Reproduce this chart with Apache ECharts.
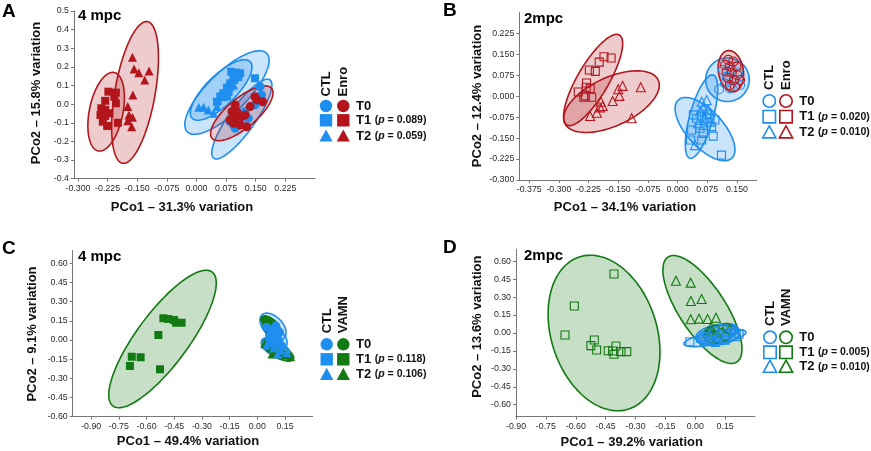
<!DOCTYPE html>
<html><head><meta charset="utf-8">
<script src="https://cdn.jsdelivr.net/npm/echarts@6/dist/echarts.min.js"></script>
<style>html,body{margin:0;padding:0;background:#fff}#c{width:871px;height:451px}</style>
</head><body><div id="c"></div><script>
const BLUE='#1E8EF0', RED='#B3151D', GREEN='#127A12';
const BLUE_F='rgba(30,142,240,0.24)', RED_F='rgba(179,21,29,0.22)', GREEN_F='rgba(18,122,18,0.24)';

// ---- tick labels ----
const A_X_TICKS=[-0.3,-0.225,-0.15,-0.075,0,0.075,0.15,0.225];
const A_Y_TICKS=[-0.4,-0.3,-0.2,-0.1,0,0.1,0.2,0.3,0.4,0.5];
const B_X_TICKS=[-0.375,-0.3,-0.225,-0.15,-0.075,0,0.075,0.15];
const B_Y_TICKS=[-0.3,-0.225,-0.15,-0.075,0,0.075,0.15,0.225];
const CD_X_TICKS=[-0.9,-0.75,-0.6,-0.45,-0.3,-0.15,0,0.15];
const CD_Y_TICKS=[-0.6,-0.45,-0.3,-0.15,0,0.15,0.3,0.45,0.6];

// ---- Panel A (4 mpc, CTL vs Enro) ----
const A_CTL_T0=[[0.161,0.094],[0.106,-0.058],[0.085,-0.094],[0.094,-0.112],[0.098,-0.129],[0.148,-0.004],[0.131,-0.076],[0.123,-0.04],[0.165,0.049],[0.111,-0.103]];
const A_CTL_T1=[[0.088,0.174],[0.1005,0.169],[0.1106,0.166],[0.0937,0.152],[0.106,0.145],[0.0955,0.130],[0.0854,0.112],[0.0771,0.089],[0.0812,0.067],[0.0686,0.059],[0.0603,0.041],[0.0771,0.041],[0.052,0.013],[0.148,0.139]];
const A_CTL_T2=[[0.006,-0.017],[0.018,-0.017],[0.030,-0.031],[0.0435,-0.049],[0.055,0.023],[0.060,0.049],[0.077,0.085],[0.0686,0.040],[0.0854,0.094],[0.0937,0.103],[0.052,-0.013]];
const A_ENRO_T0=[[0.0897,-0.04],[0.102,-0.04],[0.098,-0.076],[0.115,-0.067],[0.123,-0.058],[0.136,-0.013],[0.1525,0.023],[0.1675,0.013],[0.148,0.04],[0.085,-0.085],[0.094,-0.103],[0.1106,-0.112],[0.127,-0.121],[0.098,-0.004]];
const A_ENRO_T1=[[-0.223,0.067],[-0.204,0.062],[-0.231,0.018],[-0.208,0.04],[-0.241,-0.022],[-0.231,-0.031],[-0.243,-0.058],[-0.231,-0.063],[-0.237,-0.094],[-0.226,-0.117],[-0.199,-0.1],[-0.204,0.005],[-0.22,-0.049]];
const A_ENRO_T2=[[-0.162,0.252],[-0.158,0.189],[-0.146,0.169],[-0.131,0.13],[-0.12,0.178],[-0.161,0.049],[-0.174,-0.013],[-0.171,-0.058],[-0.162,-0.07],[-0.174,-0.089],[-0.164,-0.121]];
// ellipses: [x1, y1, x2, y2 (major axis ends), minor/major ratio]  rows T0,T1,T2
const A_ELL_CTL=[[0.0435,-0.29,0.186,0.13,0.27],[-0.0108,-0.0757,0.1357,0.228,0.37],[-0.0234,-0.148,0.1776,0.273,0.36]];
const A_ELL_ENRO=[[0.0394,-0.183,0.190,0.085,0.38],[-0.2085,0.170,-0.2487,-0.251,0.42],[-0.124,0.443,-0.187,-0.317,0.28]];

// ---- Panel B (2mpc, CTL vs Enro) ----
const B_CTL_T0=[[0.105,0.025],[0.115,0.094],[0.124,0.070],[0.145,0.058],[0.158,0.040],[0.120,0.046],[0.137,0.094],[0.153,0.082],[0.132,0.028]];
const B_CTL_T1=[[0.040,-0.067],[0.048,-0.079],[0.061,-0.071],[0.0735,-0.064],[0.082,-0.079],[0.0945,-0.085],[0.0356,-0.121],[0.0566,-0.115],[0.086,-0.109],[0.065,-0.133],[0.090,-0.143],[0.033,-0.157],[0.061,-0.157],[0.111,-0.211]];
const B_CTL_T2=[[0.061,-0.020],[0.0735,-0.014],[0.065,-0.043],[0.0776,-0.049],[0.0566,-0.055],[0.069,-0.079],[0.082,-0.091],[0.052,-0.097],[0.065,-0.103],[0.044,-0.175]];
const B_ENRO_T0=[[0.128,0.130],[0.141,0.124],[0.120,0.112],[0.132,0.106],[0.149,0.106],[0.124,0.088],[0.137,0.084],[0.151,0.076],[0.128,0.064],[0.1425,0.058],[0.158,0.058],[0.132,0.040],[0.145,0.034]];
const B_ENRO_T1=[[-0.186,0.141],[-0.168,0.137],[-0.198,0.122],[-0.223,0.094],[-0.208,0.089],[-0.230,0.047],[-0.251,0.015],[-0.231,0.032],[-0.221,0.027],[-0.233,0.001],[-0.217,-0.004],[-0.237,-0.004]];
const B_ENRO_T2=[[-0.139,0.037],[-0.150,0.025],[-0.093,0.032],[-0.147,0.001],[-0.164,-0.017],[-0.194,-0.020],[-0.189,-0.035],[-0.196,-0.040],[-0.204,-0.059],[-0.221,-0.071],[-0.116,-0.079]];
const B_ELL_CTL=[[0.071,0.059,0.181,0.059,1.0],[0.0018,-0.0136,0.137,-0.222,0.46],[0.031,-0.222,0.090,0.076,0.27]];
const B_ELL_ENRO=[[0.127,0.163,0.1425,0.016,0.6],[-0.280,-0.103,-0.147,0.219,0.3],[-0.285,-0.097,-0.049,0.058,0.47]];

// ---- Panel C (4 mpc, CTL vs VAMN) ----
const C_CTL_T0=[[0.05,0.10],[0.08,0.07],[0.10,0.11],[0.07,0.04],[0.12,0.06]];
const C_CTL_T1=[[0.08,0.02],[0.10,0.0],[0.12,-0.02],[0.09,-0.03],[0.11,0.03],[0.13,-0.05],[0.07,-0.01]];
const C_CTL_T2=[[0.05,-0.04],[0.09,-0.06],[0.13,-0.08],[0.16,-0.10],[0.11,-0.11]];
const C_VAMN_T0=[[0.04,0.16],[0.06,0.15],[0.05,0.12],[0.08,0.13],[0.07,0.10],[0.10,0.09],[0.09,0.06],[0.11,0.05],[0.06,0.08]];
const C_VAMN_T1=[[-0.509,0.170],[-0.482,0.164],[-0.451,0.156],[-0.440,0.135],[-0.410,0.135],[-0.536,0.039],[-0.680,-0.131],[-0.632,-0.135],[-0.690,-0.203],[-0.527,-0.229]];
const C_VAMN_T2=[[0.04,-0.03],[0.07,-0.06],[0.10,-0.08],[0.12,-0.10],[0.15,-0.12],[0.18,-0.13],[0.14,-0.08],[0.08,-0.11]];
const C_ELL_CTL=[[0.025,0.196,0.145,0.016,0.6],[0.058,0.078,0.150,-0.063,0.7],[0.025,0.0,0.177,-0.125,0.45]];
const C_ELL_VAMN=[[0.029,0.178,0.123,0.039,0.5],[-0.782,-0.516,-0.245,0.532,0.31],[0.024,-0.013,0.195,-0.151,0.38]];

// ---- Panel D (2mpc, CTL vs VAMN) ----
const D_CTL_T0=[[0.04,-0.03],[0.08,-0.06],[0.12,-0.04],[0.16,-0.01],[0.20,0.0],[0.10,0.01],[0.14,0.03]];
const D_CTL_T1=[[-0.027,-0.073],[0.05,-0.07],[0.10,-0.08],[0.15,-0.06],[0.20,-0.03],[0.22,-0.01]];
const D_CTL_T2=[[0.03,-0.04],[0.07,-0.02],[0.11,-0.03],[0.17,0.01],[0.19,0.03]];
const D_VAMN_T0=[[0.07,0.01],[0.10,0.03],[0.13,0.0],[0.15,-0.03],[0.11,-0.05],[0.18,0.02],[0.09,-0.02],[0.16,0.04]];
const D_VAMN_T1=[[-0.408,0.493],[-0.607,0.226],[-0.654,-0.017],[-0.507,-0.059],[-0.524,-0.106],[-0.495,-0.142],[-0.437,-0.148],[-0.415,-0.150],[-0.398,-0.109],[-0.408,-0.178],[-0.373,-0.156],[-0.344,-0.156]];
const D_VAMN_T2=[[-0.097,0.437],[-0.023,0.421],[-0.022,0.268],[0.032,0.284],[-0.023,0.115],[0.019,0.120],[0.062,0.117],[0.104,0.128],[0.079,0.048]];
const D_ELL_CTL=[[0.0035,-0.042,0.224,0.008,0.45],[-0.057,-0.092,0.2545,0.008,0.2],[0.0136,-0.0585,0.214,0.042,0.4]];
const D_ELL_VAMN=[[0.044,-0.042,0.204,0.042,0.5],[-0.582,0.636,-0.334,-0.636,0.66],[-0.137,0.635,0.209,-0.242,0.37]];

const TIMES=['T0','T1','T2'];
const A_P=['','0.089','0.059'], B_P=['','0.020','0.010'], C_P=['','0.118','0.106'], D_P=['','0.005','0.010'];

const SYMS=['circle','rect','triangle'];
const AXC='#777777';

const panels=[
 {letter:'A',sub:'4 mpc',grid:{left:74,top:11,width:241,height:167.7},x:[-0.31,0.3],y:[-0.4,0.5],xt:A_X_TICKS,yt:A_Y_TICKS,xd:3,yd:1,
  xName:'PCo1 \u2013 31.3% variation',yName:'PCo2 \u2013 15.8% variation',hollow:false,
  groups:[{n:'CTL',c:BLUE,f:BLUE_F,pts:[A_CTL_T0,A_CTL_T1,A_CTL_T2],ell:A_ELL_CTL},{n:'Enro',c:RED,f:RED_F,pts:[A_ENRO_T0,A_ENRO_T1,A_ENRO_T2],ell:A_ELL_ENRO}],
  pv:A_P, L:{letter:[2,11.5],sub:[78,16],xt:[182,207.5],yt:[36,93],colX:[326,343.3],rowY:[106,120.3,136],textX:356,hb:96.5}},
 {letter:'B',sub:'2mpc',grid:{left:519.3,top:12.4,width:237.4,height:167.6},x:[-0.4,0.2],y:[-0.3,0.3],xt:B_X_TICKS,yt:B_Y_TICKS,xd:3,yd:3,
  xName:'PCo1 \u2013 34.1% variation',yName:'PCo2 \u2013 12.4% variation',hollow:true,
  groups:[{n:'CTL',c:BLUE,f:BLUE_F,pts:[B_CTL_T0,B_CTL_T1,B_CTL_T2],ell:B_ELL_CTL},{n:'Enro',c:RED,f:RED_F,pts:[B_ENRO_T0,B_ENRO_T1,B_ENRO_T2],ell:B_ELL_ENRO}],
  pv:B_P, L:{letter:[443,11],sub:[524,19],xt:[625,207.5],yt:[477.5,96],colX:[769.3,786],rowY:[101,116.7,132.3],textX:799.3,hb:90}},
 {letter:'C',sub:'4 mpc',grid:{left:72.7,top:250.5,width:240,height:166.2},x:[-1.0,0.3],y:[-0.6,0.7],xt:CD_X_TICKS,yt:CD_Y_TICKS,xd:2,yd:2,
  xName:'PCo1 \u2013 49.4% variation',yName:'PCo2 \u2013 9.1% variation',hollow:false,
  groups:[{n:'VAMN',c:GREEN,f:GREEN_F,pts:[C_VAMN_T0,C_VAMN_T1,C_VAMN_T2],ell:C_ELL_VAMN},{n:'CTL',c:BLUE,f:BLUE_F,pts:[C_CTL_T0,C_CTL_T1,C_CTL_T2],ell:C_ELL_CTL}],
  legendOrder:[1,0], pv:C_P, L:{letter:[2,249],sub:[78,257],xt:[188,441.5],yt:[32.5,334],colX:[326.7,343.3],rowY:[344.3,359.3,374.3],textX:356,hb:333.3}},
 {letter:'D',sub:'2mpc',grid:{left:516,top:249.3,width:239,height:167.4},x:[-0.9,0.3],y:[-0.7,0.7],xt:CD_X_TICKS,yt:CD_Y_TICKS,xd:2,yd:2,
  xName:'PCo1 \u2013 39.2% variation',yName:'PCo2 \u2013 13.6% variation',hollow:true,
  groups:[{n:'VAMN',c:GREEN,f:GREEN_F,pts:[D_VAMN_T0,D_VAMN_T1,D_VAMN_T2],ell:D_ELL_VAMN},{n:'CTL',c:BLUE,f:BLUE_F,pts:[D_CTL_T0,D_CTL_T1,D_CTL_T2],ell:D_ELL_CTL}],
  legendOrder:[1,0], pv:D_P, L:{letter:[443,247.5],sub:[524,256],xt:[631.7,442.5],yt:[477.5,326.7],colX:[770,786],rowY:[337.3,352.3,366.7],textX:799.3,hb:326}}
];

function ellipseItem(api,color,fill){
  const p1=api.coord([api.value(0),api.value(1)]), p2=api.coord([api.value(2),api.value(3)]);
  const r=api.value(4);
  const cx=(p1[0]+p2[0])/2, cy=(p1[1]+p2[1])/2, ux=(p2[0]-p1[0])/2, uy=(p2[1]-p1[1])/2;
  const vx=-uy*r, vy=ux*r, pts=[];
  for(let k=0;k<120;k++){const t=k/120*2*Math.PI;pts.push([cx+Math.cos(t)*ux+Math.sin(t)*vx,cy+Math.cos(t)*uy+Math.sin(t)*vy]);}
  return {type:'polygon',shape:{points:pts},style:{fill:fill,stroke:color,lineWidth:1.6}};
}

const grids=[],xAxes=[],yAxes=[],series=[],graphics=[];
const TICKFONT='"Liberation Sans", Arial, sans-serif';
const BOLD='"Liberation Sans", Arial, sans-serif';
panels.forEach((P,i)=>{
  grids.push(Object.assign({containLabel:false},P.grid));
  const common=(ticks,dec)=>({
    axisLine:{show:true,onZero:false,lineStyle:{color:AXC,width:1}},
    axisTick:{show:true,length:3,customValues:ticks,lineStyle:{color:AXC}},
    axisLabel:{customValues:ticks,formatter:v=>v.toFixed(dec),fontFamily:TICKFONT,fontSize:8.8,color:'#2a2a2a',margin:5},
    splitLine:{show:false}});
  xAxes.push(Object.assign({gridIndex:i,type:'value',min:P.x[0],max:P.x[1]},common(P.xt,P.xd)));
  yAxes.push(Object.assign({gridIndex:i,type:'value',min:P.y[0],max:P.y[1]},common(P.yt,P.yd)));
  P.groups.forEach(g=>{
    series.push({type:'custom',xAxisIndex:i,yAxisIndex:i,data:g.ell,encode:{x:[0,2],y:[1,3]},z:2,silent:true,
      renderItem:(p,api)=>ellipseItem(api,g.c,g.f)});
  });
  P.groups.forEach(g=>{
    g.pts.forEach((d,k)=>{
      const size=k===0?9:(k===1?8:9);
      series.push({type:'scatter',xAxisIndex:i,yAxisIndex:i,data:d,symbol:SYMS[k],symbolSize:size,z:3,silent:true,
        itemStyle:P.hollow?{color:'rgba(255,255,255,0)',borderColor:g.c,borderWidth:1.1,opacity:1}:{color:g.c,opacity:1}});
    });
  });
  const L=P.L;
  graphics.push({type:'text',x:L.letter[0],y:L.letter[1],style:{text:P.letter,font:'bold 19px '+BOLD,fill:'#000',verticalAlign:'middle'}});
  graphics.push({type:'text',x:L.sub[0],y:L.sub[1],style:{text:P.sub,font:'bold 15px '+BOLD,fill:'#000',verticalAlign:'middle'}});
  graphics.push({type:'text',x:L.xt[0],y:L.xt[1],style:{text:P.xName,font:'bold 13px '+BOLD,fill:'#111',align:'center',verticalAlign:'middle'}});
  graphics.push({type:'text',x:L.yt[0],y:L.yt[1],rotation:Math.PI/2,style:{text:P.yName,font:'bold 13px '+BOLD,fill:'#111',align:'center',verticalAlign:'middle'}});
  const order=P.legendOrder||[0,1];
  order.forEach((gi,col)=>{
    const g=P.groups[gi], cx=L.colX[col];
    graphics.push({type:'text',x:cx+0.5,y:L.hb,rotation:Math.PI/2,style:{text:g.n,font:'bold 13px '+BOLD,fill:'#111',align:'left',verticalAlign:'middle'}});
    const st=P.hollow?{fill:'#fff',stroke:g.c,lineWidth:1.6}:{fill:g.c};
    L.rowY.forEach((cy,k)=>{
      if(k===0) graphics.push({type:'circle',shape:{cx:cx,cy:cy,r:6.2},style:st});
      else if(k===1) graphics.push({type:'rect',shape:{x:cx-6.2,y:cy-6.2,width:12.4,height:12.4},style:st});
      else graphics.push({type:'polygon',shape:{points:[[cx,cy-6.5],[cx+6.6,cy+5.6],[cx-6.6,cy+5.6]]},style:st});
    });
  });
  L.rowY.forEach((cy,k)=>{
    const txt=P.pv[k]?('{t|'+TIMES[k]+' }{s|(}{i|p}{s| = '+P.pv[k]+')}'):('{t|'+TIMES[k]+'}');
    graphics.push({type:'text',x:L.textX,y:cy,style:{text:txt,verticalAlign:'middle',fill:'#111',
      rich:{t:{font:'bold 13px '+BOLD,fill:'#111'},s:{font:'bold 10.5px '+BOLD,fill:'#111'},i:{font:'italic bold 10.5px '+BOLD,fill:'#111'}}}});
  });
});

const chart=echarts.init(document.getElementById('c'),null,{renderer:'canvas'});
chart.setOption({animation:false,backgroundColor:'#fff',grid:grids,xAxis:xAxes,yAxis:yAxes,series:series,graphic:graphics});
</script></body></html>
